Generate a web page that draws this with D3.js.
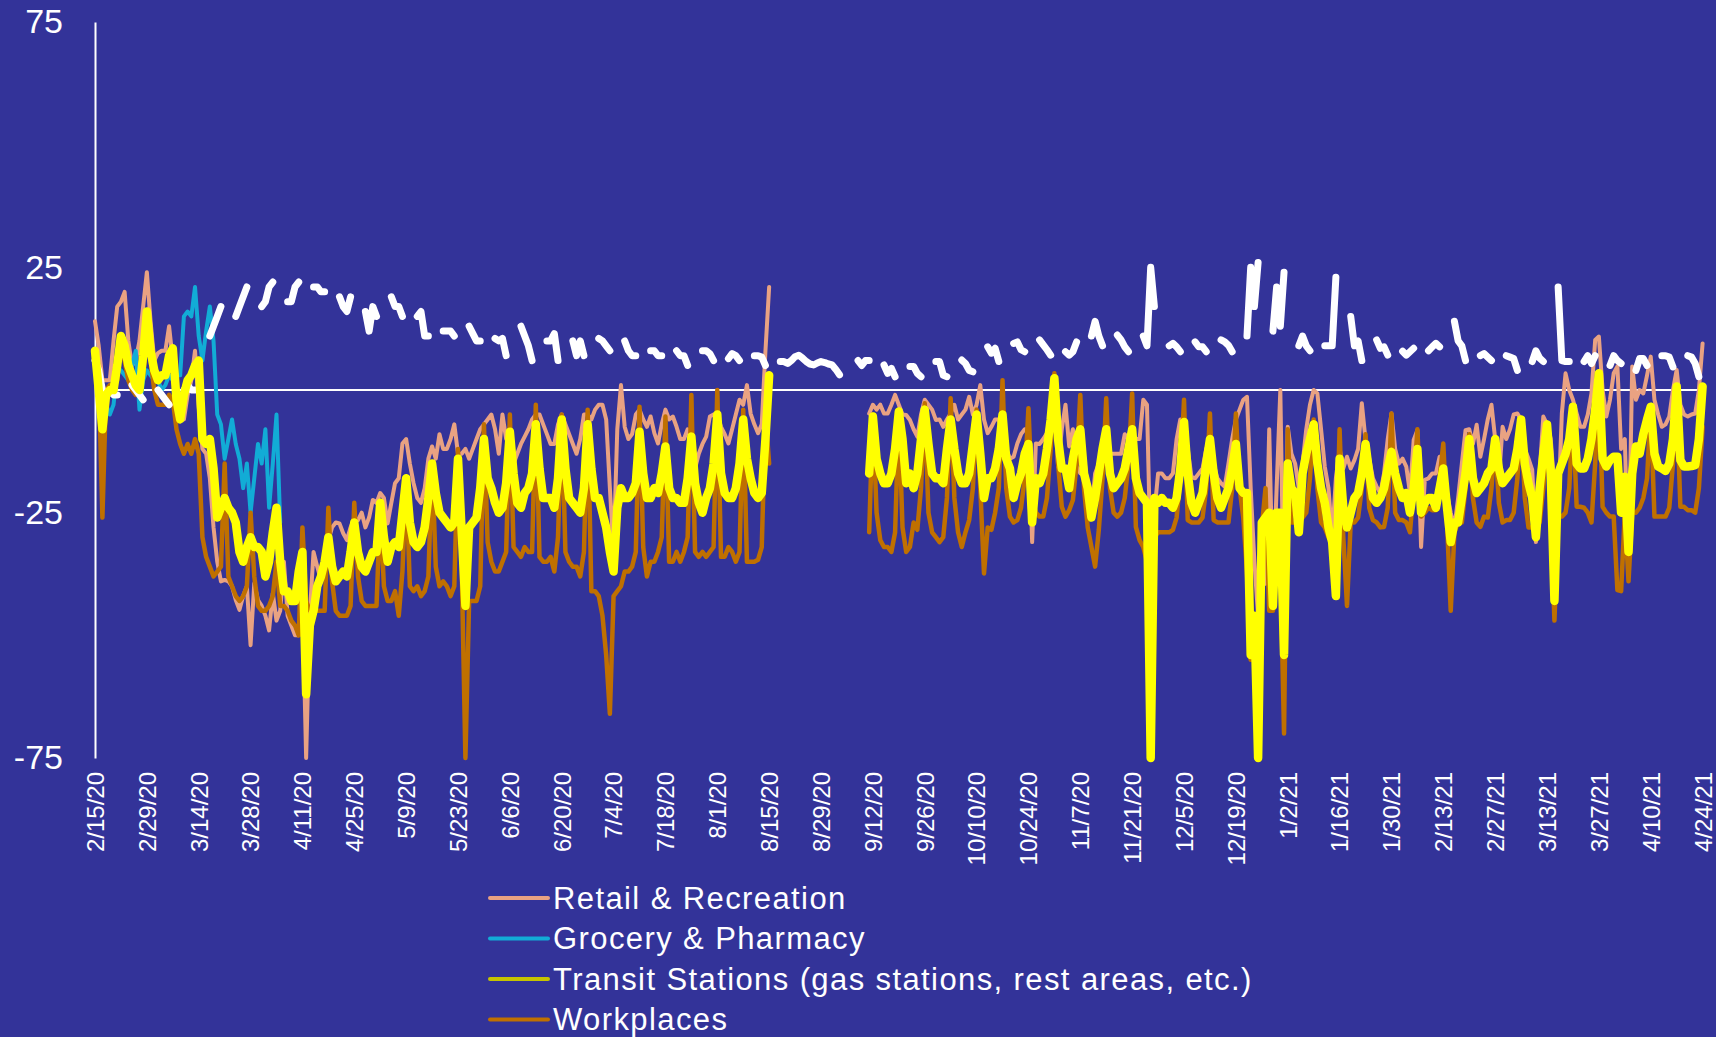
<!DOCTYPE html>
<html><head><meta charset="utf-8">
<script src="https://cdn.jsdelivr.net/npm/d3@7"></script>
<style>
html,body{margin:0;padding:0;background:#333399;overflow:hidden}
svg{display:block}
text{font-family:"Liberation Sans",Arial,sans-serif;fill:#ffffff}
</style></head><body>
<svg id="chart" width="1716" height="1037"></svg>
<script>
const _ = null;
const startDate = "2020-02-15";
const endDate = "2021-04-24";
const yTicks = [-75, -25, 25, 75];
const tickLabels = ["2/15/20","2/29/20","3/14/20","3/28/20","4/11/20","4/25/20","5/9/20","5/23/20","6/6/20","6/20/20","7/4/20","7/18/20","8/1/20","8/15/20","8/29/20","9/12/20","9/26/20","10/10/20","10/24/20","11/7/20","11/21/20","12/5/20","12/19/20","1/2/21","1/16/21","1/30/21","2/13/21","2/27/21","3/13/21","3/27/21","4/10/21","4/24/21"];
const seriesNames = ["Retail & Recreation","Grocery & Pharmacy","Transit Stations (gas stations, rest areas, etc.)","Workplaces"];

// daily values, one row per week (Sat..Fri), starting 2/15/20
const retail = [
14,9,2,2,2,10,17, 18,20,10,5,6,10,17, 24,14,6,7.5,8,8,13, 6,1,-3.4,-6,-1,2,8,
-3.4,-12,-13,-18,-28,-35,-39, -38.7,-39,-40,-42.8,-44.8,-42,-40, -52,-39.4,-42.8,-44,-46,-49,-41.4,
-47,-45,-35,-46,-48,-50,-50, -42,-75,-45.5,-33,-36,-38.7,-36, -30.6,-28,-27,-27.2,-29.2,-30.6,-28,
-26,-26.5,-25,-28,-26,-22.4,-23, -21,-22,-27.2,-23,-19,-18,-10.9, -10,-15,-19,-22,-23,-20,-14,
-11.5,-14,-9,-12,-12,-10,-7, -13,-13,-12,-14,-12,-10,-8, -7,-6,-5,-8,-13,-5,-10,
-9,-15,-13,-11,-9.5,-8,-6, -5,-5,-7,-9,-11,-11,-7, -5,-7,-9,-11,-13,-10,-5,
-5,-6,-4,-3,-3,-6,-20, -33,-8,1,-7.5,-10,-9,-5, -4,-6,-7.5,-5.4,-8.8,-10.9,-7,
-4,-6,-5.4,-7.5,-10,-10,-8, -10,-16,-13,-11,-9.5,-5.4,-5, -5,-7.5,-9,-10.9,-8,-5,-2,
-3,1,-4.8,-7,-8.8,-7,8, 21,_,_,_,_,_,_, _,_,_,_,_,_,_, _,_,_,_,_,_,_, _,_,_,_,_,_,-4.8,
-3,-4,-3,-4.8,-4.8,-3,-1, -3,-5,-5.1,-6.1,-8,-9.5,-5, -2,-3,-4,-6.1,-6,-7.5,-6,
-4.8,-3,-6,-5,-4,-1.4,-5, -3,1,-6,-8.8,-7.5,-6,-6, -10.2,-12,-14,-13.6,-10.9,-9,-8,
-8,-31,-10.9,-11,-10,-8.8,-5, -2,-15.6,-8,-3,-11.5,-8,-15.6, -17,-13.6,-20,-25,-17,-15,-13,
-10,-13,-13,-13,-13,-9,-10, -10,-10,-10,-2,-3,-35,-25, -17,-17,-18,-18,-17,-10,-6,
-7.5,-12,-17.7,-18,-17,-16,-12, -10,-15,-18,-19,-19.7,-15,-10, -6,-4,-2,-1.4,-20,-35,-46,
-35,-39.5,-8,-41,-20,0,-47, -7.5,-13,-15,-20,-15,-8,-3, 0,-0.7,-8,-15.6,-20,-30,-18,
-12,-16,-13.6,-16,-14.3,-12,-2.7, -10.2,-14,-18,-19.7,-21,-17,-10, -4.8,-12,-15,-14,-15.6,-21,-10.2,
-8.2,-32,-18.3,-18,-17,-17,-13.6, -16,-21,-25,-27.9,-22,-15,-8.2, -8,-11,-7.1,-13.6,-10,-6,-3,
-10,-18.3,-7.5,-10,-8,-5,-4.8, -6,-12,-14,-16.3,-31,-17,-5.4, -7,-10,-20,-25,-4.8,3.4,0,
-2,-4.8,-7.5,-7.5,-5,-0.7,10.2, 10.9,0,-5.4,-2,3.4,4.8,-12, -10,-36.7,4.8,-2,0,-0.7,3,
6.8,-2,-5,-7.5,-7,-5.4,0, 4.1,-3,-5,-5.4,-5,-4.8,0, 9.5
];

const grocery = [
5,2,-1,-3,-5,-3,4, 4,3,2,5,8,-4,2, 4,3,2,2,0,1,3, 2,3,3,15,16,15,21,
11,6,12,17,10,-5,-7, -14,-10,-6,-11,-14,-20,-15, -25,-18,-11,-15,-8,-24,-15, -5,-27
];

const transit = [
8,0,-8,-1,0,0,5, 11,9,5,3,1,0,7, 16,8,4,2,3,3,7, 8.5,-2,-6,-1,2,3,5,
6,-10,-11,-10,-16,-26,-24, -22,-24,-25,-27,-33,-35,-32, -30,-32,-32,-33,-38,-35,-29,
-24,-35,-41,-41,-43,-43,-37, -33,-62,-48,-45,-40,-38,-35, -30,-36,-39,-38,-37,-38,-33,
-27,-33,-36,-37,-35,-33,-33, -23,-30,-35,-32,-31,-32,-25, -18,-27,-31,-32,-31,-28,-22,
-15,-21,-25,-26,-27,-28,-27, -14,-29,-44,-28,-27,-26,-20, -10,-18,-20,-23,-25,-24,-19,
-8.5,-17,-23,-24,-21,-20,-17, -7,-16,-22,-22,-22,-24,-18, -6,-16,-22,-23,-24,-25,-20,
-7,-16,-22,-22,-25,-28,-33, -37,-24,-20,-22,-22,-21,-19, -8.5,-17,-22,-22,-20,-21,-17,
-11.5,-20,-22,-22,-23,-23,-18, -9.5,-19,-23,-25,-22,-20,-15, -5,-17,-21,-22,-22,-20,-15,
-6,-14,-18,-21,-22,-21,-10, 3,_,_,_,_,_,_, _,_,_,_,_,_,_, _,_,_,_,_,_,_, _,_,_,_,_,_,-17,
-5.4,-14,-17,-19,-19,-17,-12, -4.4,-10,-19,-17,-20,-17,-10, -4,-11,-17,-18,-18,-19,-12,
-6,-12,-17,-19,-19,-17,-11, -5,-13,-22,-18,-18,-16,-12, -5,-14,-16,-22,-19,-17,-13,
-11,-27,-18,-19,-17,-12,-6, 2.4,-10,-16,-16,-20,-14,-10, -8,-17,-20,-26,-22,-17,-12,
-8,-17,-20,-19,-18,-16,-12, -8,-18,-21,-22,-23,-75,-22, -23,-22,-23,-23,-24,-22,-16,
-6.5,-17,-23,-25,-23,-21,-15, -10,-17,-22,-24,-22,-20,-16, -11,-20,-21,-21,-54,-46,-75,
-27,-26,-25,-44,-25,-25,-54, -15,-20,-21,-29,-17,-13,-10, -7,-15,-20,-23,-28,-31,-42,
-14,-24,-28,-25,-22,-21,-17, -11,-17,-22,-23,-22,-20,-16, -12.6,-17,-20,-22,-21,-25,-20,
-12,-25,-23,-22,-22,-24,-20, -16,-24,-31,-27,-27,-22,-17, -10,-18,-21,-20,-19,-17,-16,
-10,-16,-19,-18,-17,-16,-12, -6,-15,-19,-22,-30,-20,-13, -7,-17,-43,-17,-15,-13,-10,
-3.4,-15,-16,-16,-14,-10,-4, 3.4,-14,-15.6,-14.3,-13.6,-13.6,-25, -17.7,-33,-17,-11.5,-13,-9,-6,
-3.4,-13,-15.6,-16,-16.5,-15,-10, 0.7,-14.3,-15.6,-15.6,-15.5,-15.3,-10, 0.7
];

const workplaces = [
5,3,-26,0,1,1,2, 10,6,2,0,-1,0,3, 12,6,0,-3,-3,-3,-1, -2,-8,-11,-13,-11,-13,-10,
-13,-30,-34,-36,-38,-37,-36, -15,-38,-40,-42,-43,-42,-40, -25,-38,-44,-45,-45,-44,-42,
-35,-44,-44,-45,-47,-48,-50, -28,-43,-45,-45,-45,-45,-45, -24,-39,-45,-46,-46,-46,-44,
-23,-38,-43,-44,-44,-44,-44, -24,-40,-43,-43,-41,-46,-37, -18,-40,-41,-40,-42,-41,-38,
-15,-36,-40,-39,-40,-42,-40, -12,-36,-75,-43,-43,-43,-40, -7,-31,-35,-37,-37,-35,-33,
-5,-32,-33,-34,-32,-33,-33, -3,-34,-35,-35,-34,-37,-30, -5,-33,-35,-36,-36,-38,-33,
-4,-41,-41,-42,-46,-54,-66, -42,-41,-40,-37,-37,-36,-33, -3.4,-32,-38,-35,-35,-33,-30,
-5.4,-35,-35,-33,-35,-33,-30, -1,-33,-34,-33,-34,-33,-32, 0,-34,-34,-32,-33,-35,-33,
-4,-35,-35,-35,-34.6,-32,-5, -15,_,_,_,_,_,_, _,_,_,_,_,_,_, _,_,_,_,_,_,_, _,_,_,_,_,_,-29,
-5,-25,-30.6,-32,-32,-33,-29, -5,-28,-33,-32,-27,-28.5,-20, -2.7,-25,-29,-30,-31,-30,-22,
-1.7,-22,-29,-32,-29,-26.5,-20, -4,-20,-37.4,-28,-28.5,-25,-20, 2,-20,-25.8,-27,-26.5,-24,-18,
-3.7,-22,-25,-25.8,-25.8,-22,-12, 3.4,-15,-23.8,-25.8,-24.5,-22.4,-15, -1,-20,-28,-32,-36,-28.5,-18,
-1.7,-20,-25,-25.8,-25,-22,-15, -0.7,-27.9,-30.6,-32,-35,-75,-30, -29,-29,-29,-29,-28.5,-26,-18,
-2,-26.5,-27,-27,-27,-26,-20, -4.8,-26.5,-27,-27,-27,-27,-20, -4.8,-20,-26,-37,-55,-50,-75,
-28,-20,-45,-45,-30,-35,-70, -8,-27,-27,-27,-26,-25,-18, -6,-20,-27,-28,-30,-31,-34.6,
-8,-30,-44,-27,-27,-26,-20, -9,-24,-26.5,-27,-28,-27.9,-24, -4.8,-25,-26.5,-26.5,-27,-29,-20,
-8,-25.8,-25,-24,-24.5,-24.5,-18, -10.9,-27,-45,-29,-27,-27,-20, -9,-22,-27,-27.9,-25.8,-26,-20,
-10,-23,-27,-26.5,-26.5,-25,-18, -6,-22,-28,-28,-28,-27,-20, -7.5,-24,-47,-25.8,-25.8,-25,-20,
-4.8,-23.8,-23.8,-24,-25,-27,-15, 2,-23.8,-25,-25.8,-25.8,-40.8,-41, -25,-39,-25,-25,-24,-22,-18,
-4,-25.8,-25.8,-25.8,-25.8,-24,-15, -2,-23.8,-23.8,-24.5,-24.5,-25,-20, -7.5
];

const residential = [
6,4,0,-1,0,-1,-1, _,_,_,1,0,-1,-2, _,_,_,0,-1,-2,-3, _,_,_,0,1,0,0,
_,_,_,11,13,15,17, _,_,_,15,17,19,21, _,_,_,17,18,21,22,
_,_,_,18,18,21,22, _,_,_,21,21,20,20, _,_,_,19,17,16,19,
_,_,_,16,12,17,15, _,_,_,19,17,17,15, _,_,_,15,16,11,11,
_,_,_,12,12,12,11, _,_,_,13,11.5,10,10, _,_,_,10.5,10,10.5,7,
_,_,_,13,11,9,6, _,_,_,10,10,11.5,6, _,_,_,10,7,10,7,
_,_,_,10.5,10,9,8, _,_,_,10,8,7,7, _,_,_,8,8,7,7,
_,_,_,8,7,7,5, _,_,_,8,8,7.4,6, _,_,_,6.4,7.4,7,6,
_,_,_,7,7,6.7,5, _,_,_,5.8,5.8,5.4,6, 6.8,7.1,6.5,5.8,5.3,5.1,5.5, 5.8,5.6,5.3,5.1,4.2,3.1,_, _,_,_,6,5,6,6,
_,_,_,5.1,3.4,4.4,2.7, _,_,_,4.8,4.8,3.4,2.7, _,_,_,5.8,5.8,3,2.7,
_,_,_,6.1,5.4,4,3.7, _,_,_,8.8,7.5,8.5,5.8, _,_,_,9.5,9.8,8.2,7.8,
_,_,_,10.2,9.2,8.2,7.1, _,_,_,7.8,7.1,7.8,9.8, _,_,_,11,14,11,9,
_,_,_,11.2,10.2,8.8,7.8, _,_,_,11,9,25,17, _,_,_,9,9.5,8.8,7.8,
_,_,_,9.8,8.8,8.8,7.8, _,_,_,10.2,9.8,9.1,7.8, _,_,_,11,25,17,26,
_,_,_,12,21,13,24, _,_,_,9,11,9,8, _,_,_,9,9,9,23,
_,_,_,15,9,10,6, _,_,_,10.2,8.5,8.8,7.1, _,_,_,7.9,7.1,7.8,8.5,
_,_,_,8,8.8,9.5,8.8, _,_,_,14,10,9,6, _,_,_,7,7.4,6.7,6,
_,_,_,7,6.7,6.4,4, _,_,_,5.8,8,6.5,5.8, _,_,_,21,6,5.8,5.8,
_,_,_,5.8,7,5.4,7, _,_,_,5,7,6,5.4, _,_,_,4,6.4,6.4,5,
_,_,_,7,7,6.7,4.7, _,_,_,7,6.7,5.4,2.7, _
];

const colors = {retail:"#e9a282", grocery:"#12acd6", transit:"#ffff00", workplaces:"#c07000", residential:"#ffffff"};
const legendColors = ["#e9a282", "#12acd6", "#c6c400", "#c07000"];

const svg = d3.select("#chart");
const W = 1716, H = 1037;
svg.append("rect").attr("width", W).attr("height", H).attr("fill", "#333399");

const t0 = new Date(startDate + "T00:00:00Z");
const t1 = new Date(endDate + "T00:00:00Z");
const x = d3.scaleUtc().domain([t0, t1]).range([95, 1702.6]);
const y = d3.scaleLinear().domain([-75, 75]).range([758, 22]);

const day = i => d3.utcDay.offset(t0, i);

// zero line
svg.append("line").attr("x1", 95).attr("x2", 1705).attr("y1", y(0)).attr("y2", y(0))
  .attr("stroke", "#ffffff").attr("stroke-width", 2);

// y axis
const yAxis = d3.axisLeft(y).tickValues(yTicks).tickSize(0).tickPadding(32).tickFormat(d => String(d));
const gy = svg.append("g").attr("transform", "translate(95,0)").call(yAxis);
gy.select(".domain").attr("stroke", "#ffffff").attr("stroke-width", 2);
gy.selectAll("text").attr("font-size", 34).attr("fill", "#ffffff")
  .attr("font-family", "'Liberation Sans', Arial, sans-serif");

// x tick labels
function parseLabel(s) {
  const [m, d, yy] = s.split("/").map(Number);
  return new Date(Date.UTC(2000 + yy, m - 1, d));
}
const xAxis = d3.axisBottom(x).tickValues(tickLabels.map(parseLabel)).tickSize(0)
  .tickFormat((d, i) => tickLabels[i]);
const gx = svg.append("g").attr("transform", "translate(0,758)").call(xAxis);
gx.select(".domain").remove();
gx.selectAll(".tick text")
  .attr("font-size", 24).attr("fill", "#ffffff")
  .attr("font-family", "'Liberation Sans', Arial, sans-serif")
  .attr("text-anchor", "end")
  .attr("transform", "translate(0,14) rotate(-90)")
  .attr("x", 0).attr("y", 0).attr("dy", "0.35em");

// lines
function drawSeries(arr, color, width) {
  const pts = arr.map((v, i) => ({d: day(i), v: v}));
  const line = d3.line().defined(p => p.v !== null && p.v !== undefined)
    .x(p => x(p.d)).y(p => y(Math.max(-75, p.v)));
  svg.append("path").datum(pts).attr("d", line)
    .attr("fill", "none").attr("stroke", color).attr("stroke-width", width)
    .attr("stroke-linejoin", "round").attr("stroke-linecap", "round");
}
drawSeries(retail, colors.retail, 4);
drawSeries(grocery, colors.grocery, 4);
drawSeries(workplaces, colors.workplaces, 4.5);
drawSeries(residential, colors.residential, 7);
drawSeries(transit, colors.transit, 8.5);

// legend
const lg = svg.append("g");
seriesNames.forEach((name, i) => {
  const ly = 898 + i * 40.5;
  lg.append("line").attr("x1", 490).attr("x2", 548).attr("y1", ly).attr("y2", ly)
    .attr("stroke", legendColors[i]).attr("stroke-width", 4).attr("stroke-linecap", "round");
  lg.append("text").attr("x", 553).attr("y", ly + 10.5).text(name)
    .attr("font-size", 31).attr("letter-spacing", "1.4px").attr("fill", "#ffffff");
});
</script>
</body></html>
